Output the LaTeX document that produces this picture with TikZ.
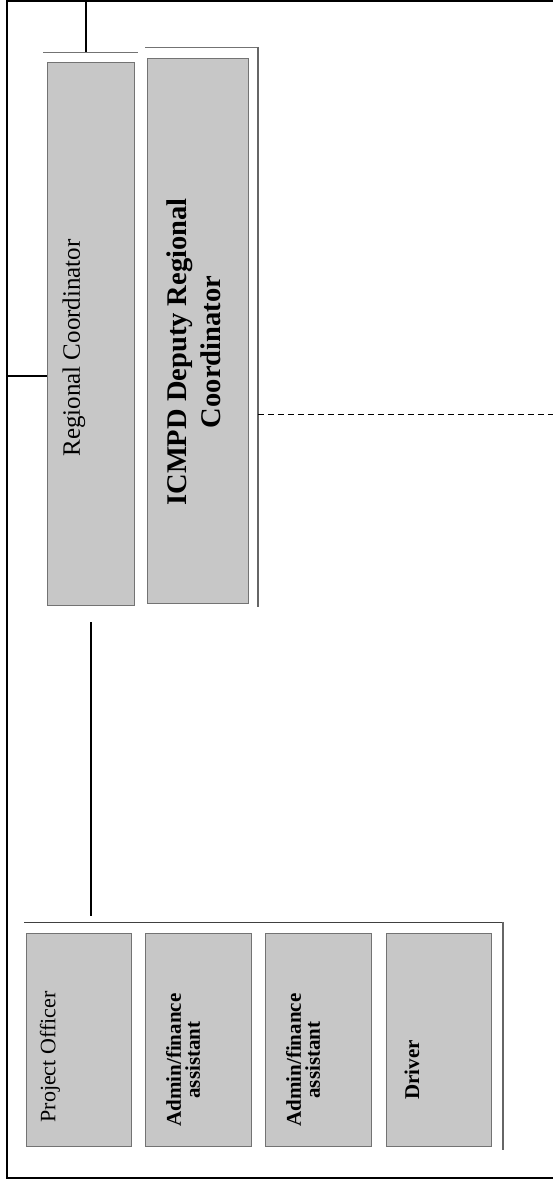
\documentclass[tikz,border=0pt]{standalone}
\usepackage{fontspec}
\setmainfont{Liberation Serif}
\usetikzlibrary{positioning, calc}

\definecolor{boxgray}{gray}{0.78}
\definecolor{rulegray}{gray}{0.45}

\begin{document}
\begin{tikzpicture}[x=1pt, y=-1pt,
    box/.style={fill=boxgray, draw=rulegray, line width=0.6pt, inner sep=0pt},
    conn/.style={line width=1.6pt, black},
    rulel/.style={line width=0.9pt, rulegray},
    shade/.style={line width=2.6pt, black!60},
    lbl/.style={rotate=90, align=center, inner sep=0pt}]

    \useasboundingbox (0,0) rectangle (553,1180);

    % ================= Outer frame =================
    \draw[line width=1.8pt] (560,1) -- (7,1) -- (7,1178) -- (560,1178);

    % ================= Upper boxes =================
    \node[box, minimum width=87pt, minimum height=543pt] (rc) at (90.5,333.5) {};
    \node[box, minimum width=101pt, minimum height=545pt] (dep) at (197.5,330.5) {};

    % Box rules
    \draw[rulel] (43,52) -- (138,52);
    \draw[rulel] (145,47) -- (258,47);
    \draw[shade] (258,47) -- (258,607);

    % Labels
    \node[lbl, font=\fontsize{25}{30}\selectfont] (rclbl) at (74,348) {Regional Coordinator};
    \node[lbl, font=\fontsize{28.5}{34}\selectfont\bfseries] (deplbl) at (194,352)
        {ICMPD Deputy Regional\\Coordinator};

    % ================= Lower boxes =================
    \node[box, minimum width=105pt, minimum height=213pt] (po) at (78.5,1039.5) {};
    \node[box, minimum width=106pt, minimum height=213pt] (adma) at (198,1039.5) {};
    \node[box, minimum width=106pt, minimum height=213pt] (admb) at (318,1039.5) {};
    \node[box, minimum width=105pt, minimum height=213pt] (drv) at (438.5,1039.5) {};

    % Group rules
    \draw[rulel, black!75] (24,922) -- (503,922);
    \draw[shade, line width=2pt] (503,922) -- (503,1150);

    % Labels
    \node[lbl, font=\fontsize{22}{26}\selectfont] (polbl) at (50,1057) {Project Officer};
    \node[lbl, font=\fontsize{21}{19}\selectfont\bfseries] (adalbl) at (183,1060)
        {Admin/finance\\assistant};
    \node[lbl, font=\fontsize{21}{19}\selectfont\bfseries] (adblbl) at (303,1060)
        {Admin/finance\\assistant};
    \node[lbl, font=\fontsize{21}{26}\selectfont\bfseries] (drvlbl) at (412,1070) {Driver};

    % ================= Connectors =================
    \coordinate (ftop) at (86,1);
    \coordinate (rctop) at (86,52);
    \coordinate (fleft) at (7,376);
    \coordinate (rcbot) at (91,622);
    \coordinate (grptop) at (91,916);
    \coordinate (fright) at (553,414);

    \draw[conn] (ftop) -- (rctop);
    \draw[conn] (fleft) -- (rc.west |- fleft);
    \draw[conn] (rcbot) -- (grptop);
    \draw[line width=0.8pt, dashed, dash pattern=on 6pt off 4pt] (dep.east |- fright) ++(10,0) -- (fright);

\end{tikzpicture}
\end{document}
